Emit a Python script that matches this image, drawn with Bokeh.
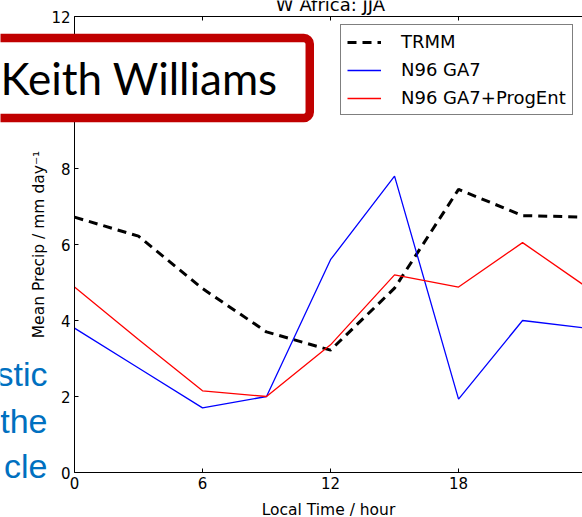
from bokeh.plotting import figure
from bokeh.models import Range1d, FixedTicker, LinearAxis, Legend, LegendItem, Label
from bokeh.embed import file_html
from bokeh.resources import INLINE

# ---- data ----
hours = [0, 3, 6, 9, 12, 15, 18, 21, 24]
trmm = [6.72, 6.22, 4.84, 3.70, 3.22, 4.85, 7.45, 6.76, 6.72]
ga7 = [3.80, 2.75, 1.70, 2.00, 5.60, 7.80, 1.93, 4.00, 3.80]
ga7_progent = [4.88, 3.50, 2.15, 2.00, 3.36, 5.20, 4.88, 6.05, 4.88]
series_names = ["TRMM", "N96 GA7", "N96 GA7+ProgEnt"]
x_ticks = [0, 6, 12, 18, 24]
y_ticks = [0, 2, 4, 6, 8, 10, 12]
title_text = "W Africa: JJA"
x_label = "Local Time / hour"
y_label = "Mean Precip / mm day\u207b\u00b9"
overlay_name = "Keith Williams"
side_text = ["stic", "the", "cle"]

# ---- layout (pixels of the 582x517 picture) ----
W, H = 582, 517
X0, Y0 = 74, 472          # pixel of (0, 0)
PPX, PPY = 21.336, 38.0   # pixels per hour, per mm/day


def dx(px):
    return (px - X0) / PPX


def dy(py):
    return (Y0 - py) / PPY


p = figure(width=W, height=H, output_backend="svg", toolbar_location=None,
           x_range=Range1d(dx(0), dx(W)), y_range=Range1d(dy(H), dy(0)),
           min_border=0, x_axis_label=x_label, y_axis_label=y_label)
p.outline_line_color = None
p.grid.visible = False
p.background_fill_color = "white"
p.border_fill_color = "white"

font = "DejaVu Sans"
xa, ya = p.xaxis[0], p.yaxis[0]
xa.fixed_location = 0
xa.bounds = (0, 24)
ya.fixed_location = 0
ya.bounds = (0, 12)
for ax in [xa, ya]:
    ax.major_tick_in = 4
    ax.major_tick_out = 0
    ax.minor_tick_line_color = None
    ax.axis_line_color = "black"
    ax.major_tick_line_color = "black"
    ax.major_label_text_font = font
    ax.major_label_text_font_size = "15px"
    ax.major_label_text_color = "black"
    ax.axis_label_text_font = font
    ax.axis_label_text_font_size = "15.5px"
    ax.axis_label_text_font_style = "normal"
    ax.axis_label_text_color = "black"
    ax.major_label_standoff = 4
xa.axis_label_standoff = 9
ya.axis_label_standoff = 0
xa.ticker = FixedTicker(ticks=x_ticks)
ya.ticker = FixedTicker(ticks=y_ticks)

top = LinearAxis(ticker=FixedTicker(ticks=x_ticks), fixed_location=12, bounds=(0, 24))
top.major_tick_in = 4
top.major_tick_out = 0
top.minor_tick_line_color = None
top.major_label_text_color = None
top.major_label_text_font_size = "1px"
top.major_label_standoff = 0
top.axis_line_color = "black"
top.major_tick_line_color = "black"
p.add_layout(top, "above")

r1 = p.line(hours, trmm, line_color="black", line_width=3, line_dash="9 6")
r2 = p.line(hours, ga7, line_color="#0000ff", line_width=1.3)
r3 = p.line(hours, ga7_progent, line_color="#ff0000", line_width=1.3)

legend = Legend(items=[LegendItem(label=n, renderers=[r]) for n, r in zip(series_names, [r1, r2, r3])],
                location=(340, H - 115), padding=6, spacing=7, margin=0,
                glyph_width=34, glyph_height=20, label_height=20, label_standoff=20,
                label_text_font=font, label_text_font_size="18px", label_text_color="black",
                border_line_color="black", border_line_width=1,
                background_fill_color="white", background_fill_alpha=1)
p.add_layout(legend)

p.add_layout(Label(x=dx(330), y=dy(4), text=title_text, text_align="center",
                   text_baseline="middle", text_font=font,
                   text_font_size="18px", text_color="black"))

for t, py in zip(side_text, [373, 420, 465]):
    p.add_layout(Label(x=dx(47), y=dy(py), text=t, text_align="right",
                       text_baseline="middle", text_font="Liberation Sans",
                       text_font_size="34px", text_color="#0070C0"))

p.add_layout(Label(x=dx(-32), y=dy(37.5), text=overlay_name, anchor="top_left",
                   text_align="left", text_baseline="top", text_font="Lato",
                   text_font_size="44px", text_color="black",
                   background_fill_color="white", background_fill_alpha=1,
                   border_line_color="#C00000", border_line_width=8.5,
                   padding=(32, 14), border_radius=6))

open("out.html", "w").write(file_html(p, INLINE))
